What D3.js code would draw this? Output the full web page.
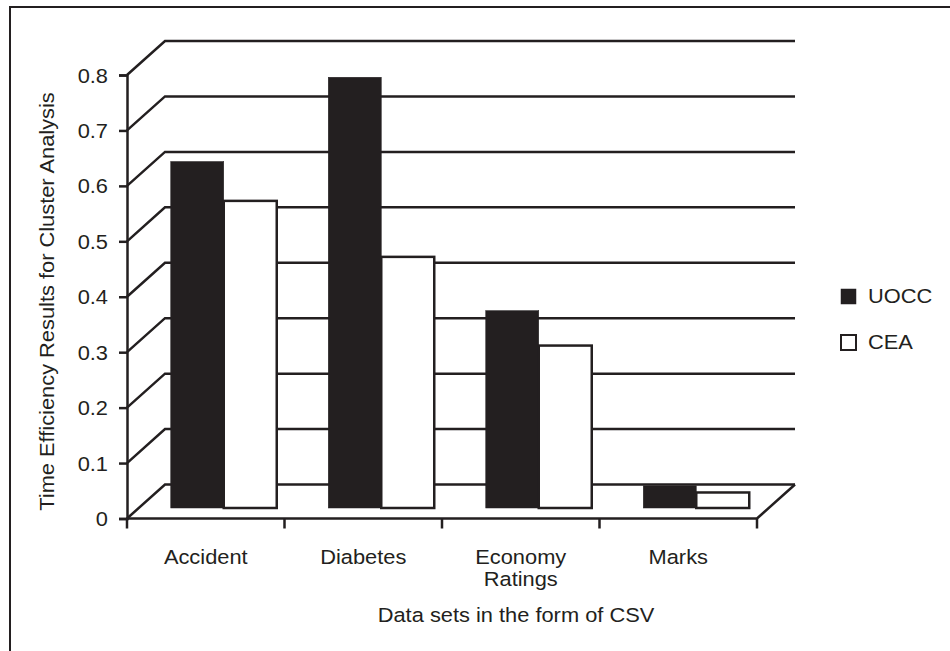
<!DOCTYPE html>
<html>
<head>
<meta charset="utf-8">
<script src="https://cdn.jsdelivr.net/npm/d3@7/dist/d3.min.js"></script>
<style>
  html, body { margin: 0; padding: 0; background: #fff; }
  svg { display: block; font-family: "Liberation Sans", Arial, sans-serif; }
</style>
</head>
<body>
<svg id="chart" width="950" height="651"></svg>
<script>
// Data sets and measured time efficiency
const categories = ["Accident", "Diabetes", "Economy Ratings", "Marks"];
const seriesNames = ["UOCC", "CEA"];
const uocc = [0.625, 0.777, 0.356, 0.040];
const cea  = [0.554, 0.453, 0.293, 0.028];
const yTicks = [0, 0.1, 0.2, 0.3, 0.4, 0.5, 0.6, 0.7, 0.8];
const tickLabels = ["0", "0.1", "0.2", "0.3", "0.4", "0.5", "0.6", "0.7", "0.8"];

const ink = "#231f20";
const fontSize = 19.5, stretch = 1.12;   // slightly wide lettering
const svg = d3.select("#chart");

// Text helper: places a label at (x, y) with horizontal stretch and optional rotation
function label(parent, x, y, str, anchor, rotate) {
  return parent.append("text")
    .attr("transform", `translate(${x},${y})` + (rotate ? ` rotate(${rotate})` : "") + ` scale(${stretch},1)`)
    .attr("text-anchor", anchor || "start")
    .attr("font-size", fontSize).attr("fill", ink)
    .text(str);
}

// Frame
svg.append("path")
  .attr("d", "M10,651 L10,7 L950,7")
  .attr("fill", "none").attr("stroke", ink).attr("stroke-width", 2);

// Front plane of the pseudo-3D box
const x0 = 127, x1 = 757;
const depthX = 38, depthY = -34;   // offset to the back wall
const y = d3.scaleLinear().domain([0, 0.8]).range([518.5, 75]);
const xCat = d3.scaleBand().domain(categories).range([x0, x1]);

// Bars sit part way into the depth of the box
const barShiftX = 18, barShiftY = -10.5;
const xBar = d3.scaleBand().domain(categories)
  .range([x0 + barShiftX, x1 + barShiftX])
  .paddingInner(0.327).paddingOuter(0.1635);
const xSeries = d3.scaleBand().domain(seriesNames).range([0, xBar.bandwidth()]);

const grid = svg.append("g").attr("stroke", ink).attr("stroke-width", 2.5).attr("fill", "none");

// Back wall gridlines with their side-wall diagonals (0 is the floor's back edge)
yTicks.forEach(v => {
  const yf = y(v), yb = y(v) + depthY;
  grid.append("path")
    .attr("d", `M${x0},${yf} L${x0 + depthX},${yb} L${x1 + depthX},${yb}`)
    .attr("stroke-linejoin", "miter");
});

// Floor: right diagonal and front edge
grid.append("path")
  .attr("d", `M${x1 + depthX},${y(0) + depthY} L${x1},${y(0)} L${x0},${y(0)}`);

// Bars
const rows = categories.map((c, i) => ({ cat: c, vals: [uocc[i], cea[i]] }));
const bars = svg.append("g");
rows.forEach(r => {
  r.vals.forEach((v, j) => {
    const bx = xBar(r.cat) + xSeries(seriesNames[j]);
    const top = y(v) + barShiftY, base = y(0) + barShiftY;
    bars.append("rect")
      .attr("x", bx).attr("y", top)
      .attr("width", xSeries.bandwidth()).attr("height", base - top)
      .attr("fill", j === 0 ? ink : "#fff")
      .attr("stroke", ink)
      .attr("stroke-width", j === 0 ? 0.5 : 2.5);
  });
});

// Value axis
const yAxis = d3.axisLeft(y).tickValues(yTicks)
  .tickFormat((d, i) => tickLabels[i]).tickSize(8);
const ya = svg.append("g").attr("transform", `translate(${x0},0)`).call(yAxis);
ya.select(".domain").attr("stroke", ink).attr("stroke-width", 2.5);
ya.selectAll(".tick line").attr("stroke", ink).attr("stroke-width", 2.5);
ya.selectAll(".tick text")
  .attr("x", 0).attr("dy", "0.36em")
  .attr("transform", `translate(-19,0) scale(${stretch},1)`)
  .attr("font-size", fontSize).attr("fill", ink)
  .attr("font-family", "Liberation Sans, Arial, sans-serif");

// Category axis ticks along the front floor edge
const xa = svg.append("g").attr("stroke", ink).attr("stroke-width", 2.5);
const bounds = categories.map(c => xCat(c)).concat([x1]);
bounds.forEach(bx => {
  xa.append("line").attr("x1", bx).attr("x2", bx)
    .attr("y1", y(0)).attr("y2", y(0) + 10);
});

// Category labels (wrapped onto two lines where needed)
categories.forEach(c => {
  const cx = xCat(c) + xCat.bandwidth() / 2;
  c.split(" ").forEach((w, k) => {
    label(svg, cx, 564 + k * 22, w, "middle");
  });
});

// Axis titles
label(svg, 516, 622, "Data sets in the form of CSV", "middle");
label(svg, 54, 301.5, "Time Efficiency Results for Cluster Analysis", "middle", -90);

// Legend
const legend = svg.append("g");
seriesNames.forEach((s, i) => {
  const ly = 296 + i * 46;
  legend.append("rect")
    .attr("x", 841).attr("y", ly - 7).attr("width", 15).attr("height", 15)
    .attr("fill", i === 0 ? ink : "#fff")
    .attr("stroke", ink).attr("stroke-width", i === 0 ? 0.5 : 2);
  label(legend, 868, ly + 7, s, "start");
});
</script>
</body>
</html>
